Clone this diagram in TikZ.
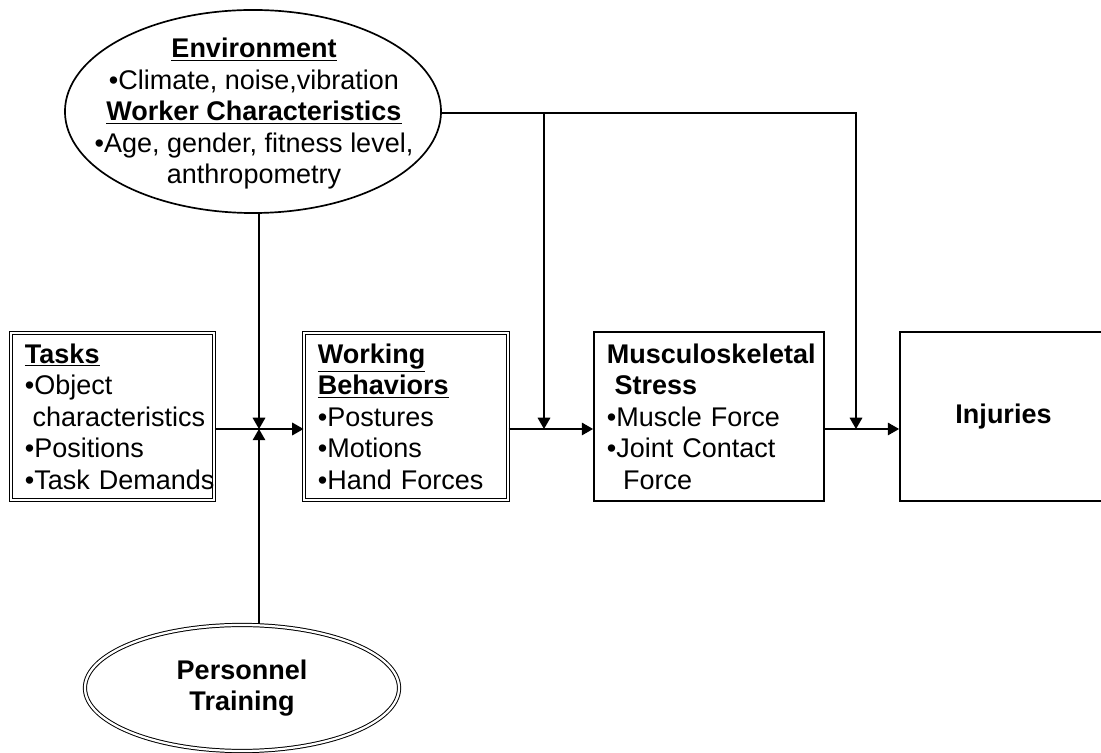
\documentclass[tikz,border=0pt]{standalone}
\usepackage{fontspec}
\setmainfont{Liberation Sans}
\usepackage{tikz}
\usetikzlibrary{arrows.meta,shapes,positioning,calc}

\begin{document}
\begin{tikzpicture}[x=0.025cm,y=-0.025cm,
          font=\fontsize{19.2}{22.4}\selectfont,
          nohyph/.style={execute at begin node={\hyphenpenalty=10000\exhyphenpenalty=10000\relax}},
          dbox/.style={rectangle,draw,double,line width=0.7pt,double distance=1.6pt,
                       align=left,inner ysep=0pt,minimum height=4.175cm,nohyph},
          sbox/.style={rectangle,draw,line width=1.3pt,inner ysep=0pt,
                       minimum height=4.225cm,nohyph},
          oval/.style={ellipse,draw,line width=1.2pt,inner sep=0pt},
          doval/.style={ellipse,draw,double,line width=0.7pt,double distance=1.6pt,
                        inner sep=0pt,align=center,font=\fontsize{19.2}{22}\selectfont\bfseries},
          arr/.style={-{Triangle[length=8pt,width=9pt]},line width=0.8pt},
        ]
        \clip (0,0) rectangle (1101,753);

        % ELLIPSES
        \node[oval,minimum width=9.4cm,minimum height=5.075cm] (env) at (253,111.5) {};
        \node[align=center,inner sep=0pt] (envtxt) at (254,114)
          {\underline{\textbf{Environment}}\\
           •Climate, noise,vibration\\
           \underline{\textbf{Worker Characteristics}}\\
           •Age, gender, fitness level,\\
           anthropometry};
        \node[doval,minimum width=7.85cm,minimum height=3.15cm] (pt) at (242,688)
          {Personnel\\Training};

        % BOXES
        \node[dbox,text width=4.375cm,inner xsep=0.35cm] (tk) at (112.5,416.5)
          {\underline{\textbf{Tasks}}\\
           •Object\\
           \hspace*{0.28em}characteristics\\
           •Positions\\
           •Task~Demands};
        \node[dbox,text width=4.4cm,inner xsep=0.35cm] (wb) at (406,416.5)
          {\underline{\textbf{Working}}\\
           \underline{\textbf{Behaviors}}\\
           •Postures\\
           •Motions\\
           •Hand Forces};
        \node[sbox,align=left,text width=5.1cm,inner xsep=0.325cm] (ms) at (709,416.5)
          {\textbf{Musculoskeletal}\\
           \hspace*{0.28em}\textbf{Stress}\\
           •Muscle Force\\
           •Joint Contact\\
           \hspace*{0.6em}Force};
        \node[sbox,minimum width=5.175cm,font=\fontsize{19.2}{22.4}\selectfont\bfseries]
          (inj) at (1003.5,416.5) {Injuries};

        % JOINS
        \coordinate (j1) at (259,429);
        \coordinate (j2) at (544,429);
        \coordinate (j3) at (856,429);

        \draw[arr] (tk.east |- j1) -- (wb.west |- j1);
        \draw[arr] (wb.east |- j2) -- (ms.west |- j2);
        \draw[arr] (ms.east |- j3) -- (inj.west |- j3);
        \draw[arr] (j1 |- env.south) -- (j1);
        \draw[arr] (j1 |- pt.north) -- (j1);
        \draw[arr] (env.east) -- ++(0,1.5) -| (j3);
        \draw[arr] (j2 |- 0,113) -- (j2);
      \end{tikzpicture}
\end{document}
